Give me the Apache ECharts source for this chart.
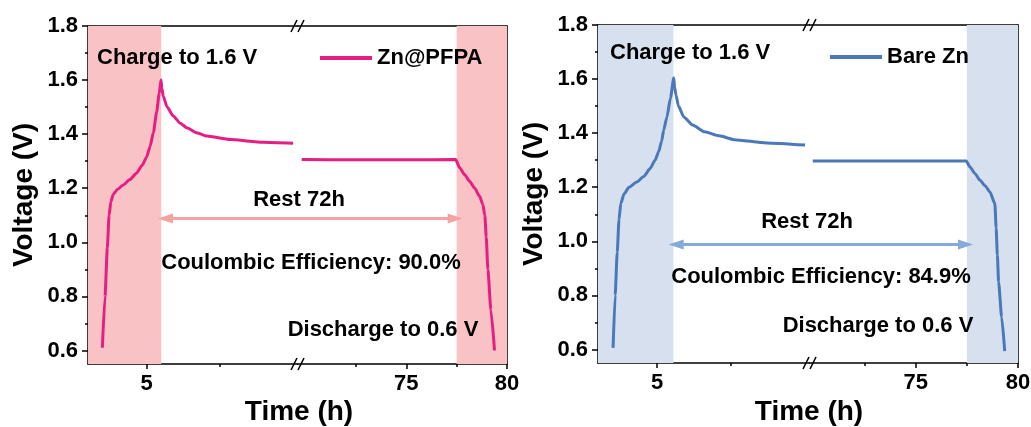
<!DOCTYPE html>
<html>
<head>
<meta charset="utf-8">
<script src="https://cdn.jsdelivr.net/npm/echarts@6/dist/echarts.min.js"></script>
<style>
html, body { margin: 0; padding: 0; background: #fff; }
#chart { width: 1031px; height: 427px; }
</style>
</head>
<body>
<div id="chart"></div>
<script>
// Zn@PFPA: charge + start of rest (left part of the broken axis)
const pfpaTimeA = [3.49, 3.58, 3.66, 3.72, 3.78, 3.86, 4.00, 4.20, 4.43, 4.65, 4.85, 5.00, 5.12, 5.23, 5.34, 5.43, 5.49, 5.52, 5.57, 5.70, 5.91, 6.15, 6.37, 6.71, 7.05, 7.85, 8.98, 10.0];
const pfpaVoltA = [0.61, 0.80, 0.98, 1.10, 1.15, 1.177, 1.195, 1.212, 1.232, 1.255, 1.285, 1.315, 1.355, 1.405, 1.48, 1.55, 1.60, 1.57, 1.54, 1.50, 1.467, 1.44, 1.424, 1.405, 1.393, 1.380, 1.370, 1.366];
// Zn@PFPA: end of rest + discharge (right part)
const pfpaTimeB = [69.81, 72.5, 75.0, 77.45, 77.65, 77.90, 78.14, 78.40, 78.64, 78.80, 78.90, 78.97, 79.05, 79.20, 79.38];
const pfpaVoltB = [1.306, 1.305, 1.305, 1.306, 1.276, 1.250, 1.226, 1.200, 1.170, 1.140, 1.100, 1.020, 0.900, 0.750, 0.600];

// Bare Zn
const bareTimeA = [3.51, 3.58, 3.65, 3.71, 3.77, 3.88, 4.05, 4.31, 4.55, 4.76, 4.93, 5.05, 5.15, 5.22, 5.33, 5.45, 5.56, 5.59, 5.64, 5.72, 5.90, 6.20, 6.60, 7.10, 7.60, 8.70, 10.0];
const bareVoltA = [0.606, 0.80, 0.96, 1.08, 1.14, 1.175, 1.20, 1.219, 1.24, 1.269, 1.30, 1.331, 1.37, 1.411, 1.46, 1.53, 1.604, 1.57, 1.54, 1.50, 1.46, 1.43, 1.405, 1.39, 1.376, 1.364, 1.356];
const bareTimeB = [69.96, 72.5, 75.0, 77.47, 77.65, 77.90, 78.14, 78.40, 78.63, 78.87, 78.93, 78.99, 79.05, 79.20, 79.35];
const bareVoltB = [1.297, 1.297, 1.297, 1.297, 1.275, 1.250, 1.226, 1.205, 1.182, 1.139, 1.050, 0.950, 0.850, 0.720, 0.594];

// axes
const voltRange = [0.55, 1.8];
const voltTicks = [0.6, 0.8, 1.0, 1.2, 1.4, 1.6, 1.8];
const voltMinor = [0.7, 0.9, 1.1, 1.3, 1.5, 1.7];
const timeRangeA = [3, 10.15];
const pfpaRangeB = [69.6, 80];
const bareRangeB = [69.8, 80];
const timeTicksA = [5];
const timeMinorA = [7.5];
const timeTicksB = [75, 80];
const timeMinorB = [72.5, 77.5];

// shaded charge / discharge windows and the rest arrow
const pfpaShade = [5.5, 77.5];
const bareShade = [5.55, 77.5];
const restArrow = [5.39, 77.8];

const FONT = 'Arial, "Liberation Sans", sans-serif';
const BLACK = '#000';

const panels = [
    {
        name: 'Zn@PFPA', color: '#e61e84', shade: '#f9c2c4', arrow: '#f4a2a2',
        timeA: pfpaTimeA, voltA: pfpaVoltA, timeB: pfpaTimeB, voltB: pfpaVoltB,
        rangeB: pfpaRangeB, shadeAt: pfpaShade, arrowV: 1.088,
        left: 88, mid: 297.5, right: 507, top: 26, bottom: 364,
        legendLeft: 320, legendTop: 47,
        texts: [
            { text: 'Charge to 1.6 V', x: 97, y: 58, align: 'left' },
            { text: 'Rest 72h', x: 299, y: 200, align: 'center' },
            { text: 'Coulombic Efficiency: 90.0%', x: 311, y: 263, align: 'center' },
            { text: 'Discharge to 0.6 V', x: 383, y: 330, align: 'center' },
            { text: 'Time (h)', x: 299, y: 412, align: 'center', size: 28 }
        ]
    },
    {
        name: 'Bare Zn', color: '#4a78b8', shade: '#d6e0ef', arrow: '#86a9da',
        timeA: bareTimeA, voltA: bareVoltA, timeB: bareTimeB, voltB: bareVoltB,
        rangeB: bareRangeB, shadeAt: bareShade, arrowV: 0.988,
        left: 598, mid: 809.5, right: 1018, top: 25, bottom: 363,
        legendLeft: 830, legendTop: 46,
        texts: [
            { text: 'Charge to 1.6 V', x: 610, y: 53, align: 'left' },
            { text: 'Rest 72h', x: 807, y: 222, align: 'center' },
            { text: 'Coulombic Efficiency: 84.9%', x: 821, y: 277, align: 'center' },
            { text: 'Discharge to 0.6 V', x: 878, y: 326, align: 'center' },
            { text: 'Time (h)', x: 809, y: 412, align: 'center', size: 28 }
        ]
    }
];

const grids = [], xAxes = [], yAxes = [], series = [], legends = [];
const lineStyle = { color: BLACK, width: 1.5 };
const labelStyle = { color: BLACK, fontSize: 22, fontWeight: 'bold', fontFamily: FONT };

function addSegment(p, s) {
    const gi = grids.length;
    grids.push({ left: s.left, top: p.top, width: s.width, height: p.bottom - p.top, outerBoundsMode: 'none' });

    const xBase = { type: 'value', gridIndex: gi, min: s.range[0], max: s.range[1], splitLine: { show: false } };
    const xi = xAxes.length;
    xAxes.push(Object.assign({}, xBase, {
        position: 'bottom',
        axisLine: { show: true, onZero: false, lineStyle: lineStyle },
        axisTick: { show: true, inside: false, length: 5, customValues: s.ticks, lineStyle: lineStyle },
        axisLabel: Object.assign({ customValues: s.ticks, margin: 9 }, labelStyle)
    }));
    xAxes.push(Object.assign({}, xBase, {
        position: 'bottom',
        axisLine: { show: false, onZero: false },
        axisTick: { show: true, inside: false, length: 3, customValues: s.minor, lineStyle: lineStyle },
        axisLabel: { show: false }
    }));
    xAxes.push(Object.assign({}, xBase, {
        position: 'top',
        axisLine: { show: true, onZero: false, lineStyle: lineStyle },
        axisTick: { show: false },
        axisLabel: { show: false }
    }));

    const yBase = { type: 'value', gridIndex: gi, min: voltRange[0], max: voltRange[1], splitLine: { show: false } };
    const yi = yAxes.length;
    if (s.first) {
        yAxes.push(Object.assign({}, yBase, {
            position: 'left',
            name: 'Voltage (V)',
            nameLocation: 'middle',
            nameGap: 50,
            nameTextStyle: { color: BLACK, fontSize: 28, fontWeight: 'bold', fontFamily: FONT },
            axisLine: { show: true, onZero: false, lineStyle: lineStyle },
            axisTick: { show: true, inside: false, length: 6, customValues: voltTicks, lineStyle: lineStyle },
            axisLabel: Object.assign({ customValues: voltTicks, margin: 10, formatter: v => v.toFixed(1) }, labelStyle)
        }));
        yAxes.push(Object.assign({}, yBase, {
            position: 'left',
            axisLine: { show: false, onZero: false },
            axisTick: { show: true, inside: false, length: 3, customValues: voltMinor, lineStyle: lineStyle },
            axisLabel: { show: false }
        }));
    } else {
        yAxes.push(Object.assign({}, yBase, {
            position: 'right',
            axisLine: { show: true, onZero: false, lineStyle: lineStyle },
            axisTick: { show: false },
            axisLabel: { show: false }
        }));
    }

    series.push({
        type: 'line',
        name: p.name,
        xAxisIndex: xi,
        yAxisIndex: yi,
        data: s.t.map((t, i) => [t, s.v[i]]),
        showSymbol: false,
        smooth: 0.2,
        smoothMonotone: 'x',
        color: p.color,
        lineStyle: { width: 3, color: p.color },
        z: 3,
        markArea: {
            silent: true,
            itemStyle: { color: p.shade },
            data: [[{ xAxis: s.shade[0] }, { xAxis: s.shade[1] }]]
        }
    });
    return gi;
}

panels.forEach(p => {
    p.gridA = addSegment(p, {
        first: true, left: p.left, width: p.mid - p.left, range: timeRangeA,
        ticks: timeTicksA, minor: timeMinorA, t: p.timeA, v: p.voltA,
        shade: [timeRangeA[0], p.shadeAt[0]]
    });
    p.gridB = addSegment(p, {
        first: false, left: p.mid, width: p.right - p.mid, range: p.rangeB,
        ticks: timeTicksB, minor: timeMinorB, t: p.timeB, v: p.voltB,
        shade: [p.shadeAt[1], p.rangeB[1]]
    });
    legends.push({
        data: [p.name],
        left: p.legendLeft,
        top: p.legendTop,
        padding: 0,
        icon: 'rect',
        itemWidth: 52,
        itemHeight: 4,
        itemGap: 5,
        textStyle: { color: BLACK, fontSize: 22, fontWeight: 'bold', fontFamily: FONT, padding: [0, 0, 0, 0] }
    });
});

const chart = echarts.init(document.getElementById('chart'));
chart.setOption({
    animation: false,
    backgroundColor: '#fff',
    grid: grids,
    xAxis: xAxes,
    yAxis: yAxes,
    legend: legends,
    series: series
});

// annotations: texts, break marks, rest arrows
const graphics = [];
panels.forEach(p => {
    p.texts.forEach(t => {
        graphics.push({
            type: 'text',
            x: t.x, y: t.y,
            z: 10,
            style: {
                text: t.text, fill: BLACK, align: t.align, verticalAlign: 'middle',
                font: 'bold ' + (t.size || 22) + 'px ' + FONT
            }
        });
    });

    [p.top, p.bottom].forEach(y => {
        [-3.5, 3.5].forEach(dx => {
            graphics.push({
                type: 'line', z: 10,
                shape: { x1: p.mid + dx - 3, y1: y + 6, x2: p.mid + dx + 3, y2: y - 6 },
                style: { stroke: BLACK, lineWidth: 1.5 }
            });
        });
    });

    const a = chart.convertToPixel({ gridIndex: p.gridA }, [restArrow[0], p.arrowV]);
    const b = chart.convertToPixel({ gridIndex: p.gridB }, [restArrow[1], p.arrowV]);
    const head = 15, half = 5;
    graphics.push({
        type: 'line', z: 9,
        shape: { x1: a[0] + head - 2, y1: a[1], x2: b[0] - head + 2, y2: b[1] },
        style: { stroke: p.arrow, lineWidth: 3 }
    });
    graphics.push({
        type: 'polygon', z: 9,
        shape: { points: [[a[0], a[1]], [a[0] + head, a[1] - half], [a[0] + head, a[1] + half]] },
        style: { fill: p.arrow }
    });
    graphics.push({
        type: 'polygon', z: 9,
        shape: { points: [[b[0], b[1]], [b[0] - head, b[1] - half], [b[0] - head, b[1] + half]] },
        style: { fill: p.arrow }
    });
});
chart.setOption({ graphic: graphics });
</script>
</body>
</html>
